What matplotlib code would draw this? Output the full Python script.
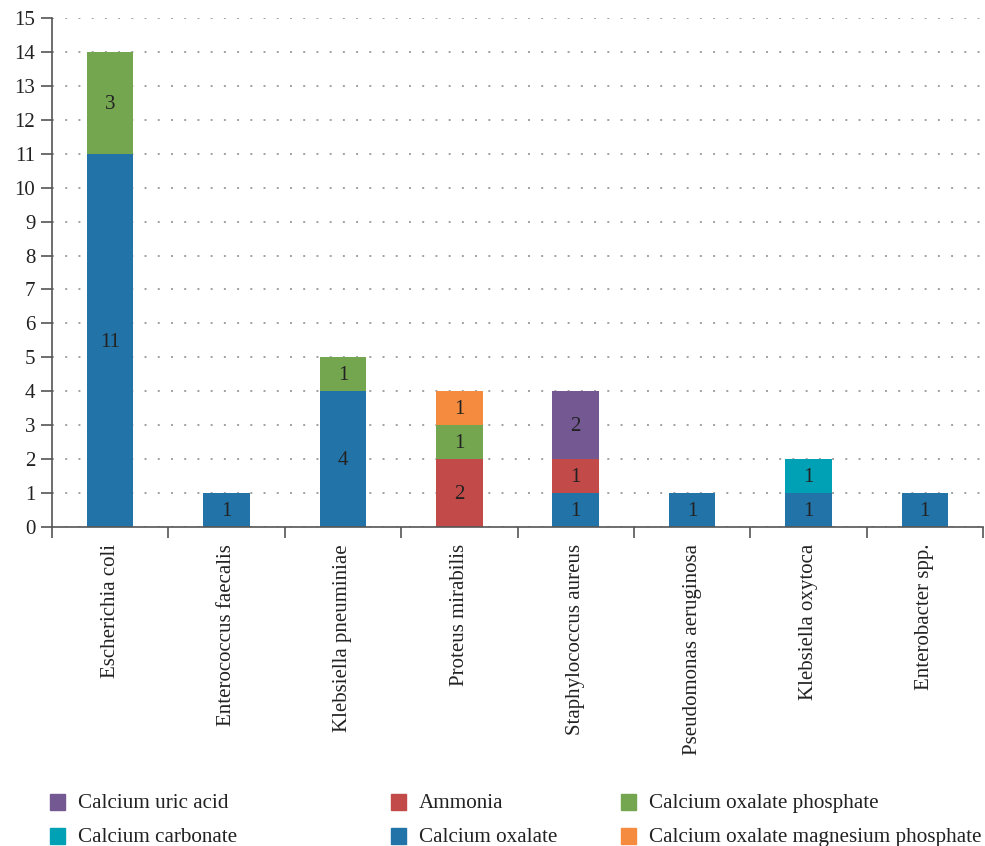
import matplotlib
matplotlib.use("Agg")
import matplotlib.pyplot as plt
from matplotlib.patches import Rectangle
import numpy as np

plt.rcParams['font.family'] = ['Liberation Serif', 'DejaVu Serif']

categories = ["Escherichia coli", "Enterococcus faecalis", "Klebsiella pneuminiae",
              "Proteus mirabilis", "Staphylococcus aureus", "Pseudomonas aeruginosa",
              "Klebsiella oxytoca", "Enterobacter spp."]

# stacking order bottom -> top
series_names = ["Calcium oxalate", "Ammonia", "Calcium oxalate phosphate",
                "Calcium oxalate magnesium phosphate", "Calcium uric acid",
                "Calcium carbonate"]
calcium_oxalate = [11, 1, 4, 0, 1, 1, 1, 1]
ammonia = [0, 0, 0, 2, 1, 0, 0, 0]
calcium_oxalate_phosphate = [3, 0, 1, 1, 0, 0, 0, 0]
calcium_oxalate_mg_phosphate = [0, 0, 0, 1, 0, 0, 0, 0]
calcium_uric_acid = [0, 0, 0, 0, 2, 0, 0, 0]
calcium_carbonate = [0, 0, 0, 0, 0, 0, 1, 0]
series_values = [calcium_oxalate, ammonia, calcium_oxalate_phosphate,
                 calcium_oxalate_mg_phosphate, calcium_uric_acid, calcium_carbonate]
colors = {"Calcium oxalate": "#2273a8", "Ammonia": "#c24a48",
          "Calcium oxalate phosphate": "#74a64f",
          "Calcium oxalate magnesium phosphate": "#f58b3f",
          "Calcium uric acid": "#735892", "Calcium carbonate": "#00a1b5"}
legend_order = [["Calcium uric acid", "Calcium carbonate"],
                ["Ammonia", "Calcium oxalate"],
                ["Calcium oxalate phosphate", "Calcium oxalate magnesium phosphate"]]
y_ticks = list(range(0, 16))

FS = 15
W, H = 985, 846
fig = plt.figure(figsize=(W / 100, H / 100), dpi=100)
ax = fig.add_axes([52 / W, 1 - 527 / H, (983 - 52) / W, (527 - 18) / H])

x = np.arange(len(categories))
bottom = np.zeros(len(categories))
for name, vals in zip(series_names, series_values):
    vals = np.array(vals, dtype=float)
    ax.bar(x, vals, 0.4, bottom=bottom, color=colors[name], zorder=3)
    for xi, v, b in zip(x, vals, bottom):
        if v > 0:
            ax.text(xi, b + v / 2 - 0.05, f"{int(v)}", ha='center', va='center',
                    fontsize=FS, color='#222222', zorder=4)
    bottom += vals

ax.set_xlim(-0.5, len(categories) - 0.5)
ax.set_ylim(0, 15)
ax.set_yticks(y_ticks)
ax.tick_params(axis='y', labelsize=FS, length=8, width=1.2, color='#555555',
               labelcolor='#222222', pad=4)
ax.set_xticks(np.arange(len(categories) + 1) - 0.5)
ax.set_xticklabels([])
ax.tick_params(axis='x', length=8, width=1.2, color='#555555')
for xi, c in zip(x, categories):
    ax.text(xi, -0.5, c, rotation=90, ha='center', va='top', fontsize=FS,
            color='#222222')

for s in ['top', 'right']:
    ax.spines[s].set_visible(False)
for s in ['left', 'bottom']:
    ax.spines[s].set_color('#555555')
    ax.spines[s].set_linewidth(1.2)
ax.spines['bottom'].set_zorder(5)

ax.yaxis.grid(True, linestyle=(0, (1, 5.8)), linewidth=1.4, color='#a0a0a0', zorder=0)
ax.set_axisbelow(True)

# legend (manual, three columns)
col_x = [50, 391, 621]
row_y = [802, 836]
for cx, names in zip(col_x, legend_order):
    for ry, name in zip(row_y, names):
        fig.add_artist(Rectangle((cx / W, 1 - (ry + 8) / H), 15 / W, 16 / H,
                                 transform=fig.transFigure, color=colors[name]))
        fig.text((cx + 28) / W, 1 - (ry + 1) / H, name, ha='left', va='center',
                 fontsize=15.2, color='#222222')

fig.savefig("out.png", dpi=100)
